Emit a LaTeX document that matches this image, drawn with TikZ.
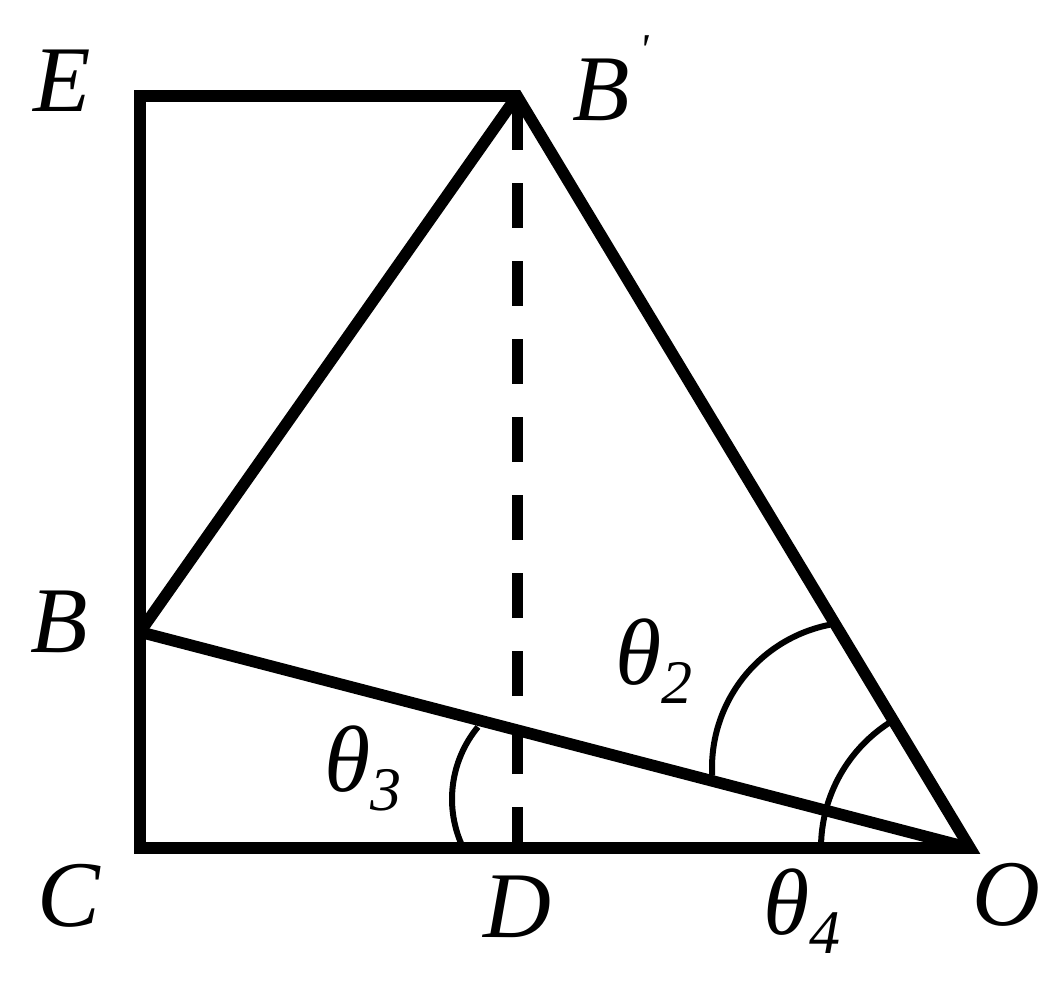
\documentclass[tikz,border=0pt]{standalone}
\usepackage{fontspec}
\setmainfont{Liberation Serif}
\newcommand\mysub[1]{\raisebox{-9.5pt}{\fontsize{31}{31}\selectfont #1}}
\begin{document}
\begin{tikzpicture}[x=0.5pt,y=-0.5pt,
  edge/.style={line width=5.8pt,line join=miter},
  dashedge/.style={line width=5.5pt,dash pattern=on 22.5pt off 16.5pt,dash phase=2pt},
  anglearc/.style={line width=3pt},
  lab/.style={font=\fontsize{47}{50}\selectfont\itshape,inner sep=0pt,anchor=base},
]
\useasboundingbox (0,0) rectangle (1056,984);
\coordinate (E) at (140,96);
\coordinate (Bp) at (517,96);
\coordinate (B) at (140,632);
\coordinate (C) at (140,848);
\coordinate (D) at (517,848);
\coordinate (O) at (970,848);
% lines
\draw[edge] (C) -- (E) -- (Bp) -- (O) -- cycle;
\draw[edge] (B) -- (Bp);
\draw[edge] (B) -- (O);
\draw[dashedge] (D) -- (Bp);
% angle marks
\draw[anglearc] ([shift={(-101:146)}]858,768) arc[start angle=-101,end angle=-183,radius=146];
\draw[anglearc] ([shift={(180:149)}]O) arc[start angle=180,end angle=238.9,radius=149];
\draw[anglearc] ([shift={(-140.4:113)}]565,799) arc[start angle=-140.4,end angle=-205.7,radius=113];
% labels
\node[lab] (lE) at (62,112) {E};
\node[lab,anchor=base west] (lBp) at (572,121) {B\kern5pt\raisebox{28pt}{\fontsize{22}{22}\selectfont\textquotesingle}};
\node[lab] (lB) at (59,652) {B};
\node[lab] (lC) at (69,926) {C};
\node[lab] (lD) at (517,937) {D};
\node[lab] (lO) at (1006,925) {O};
\node[lab] (t2) at (654,684) {θ\mysub{2}};
\node[lab] (t3) at (363,791) {θ\mysub{3}};
\node[lab] (t4) at (802,934) {θ\mysub{4}};
\end{tikzpicture}
\end{document}
